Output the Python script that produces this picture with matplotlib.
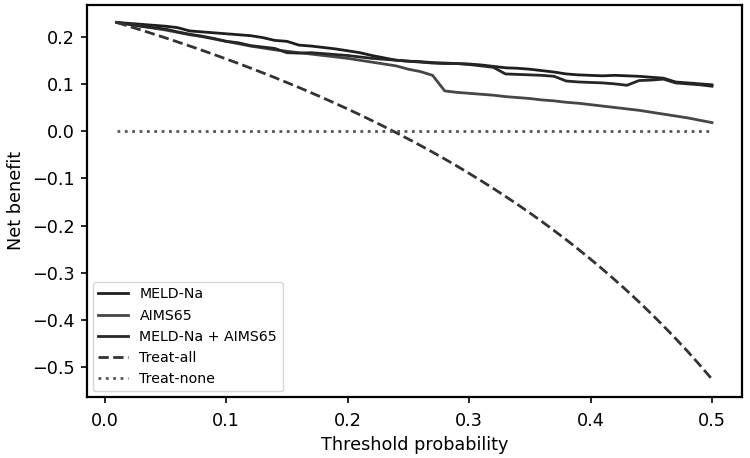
import numpy as np
import matplotlib.pyplot as plt

# threshold probabilities 0.01 .. 0.50
thresholds = [round(0.01 * i, 2) for i in range(1, 51)]

meld_na = [0.230, 0.228, 0.226, 0.224, 0.222, 0.219, 0.212, 0.210, 0.208, 0.206,
           0.204, 0.202, 0.198, 0.192, 0.190, 0.182, 0.180, 0.177, 0.174, 0.170,
           0.166, 0.160, 0.155, 0.150, 0.148, 0.147, 0.145, 0.144, 0.143, 0.142,
           0.140, 0.137, 0.134, 0.133, 0.131, 0.128, 0.125, 0.121, 0.119, 0.118,
           0.117, 0.118, 0.117, 0.116, 0.114, 0.112, 0.104, 0.102, 0.100, 0.098]

aims65 = [0.230, 0.226, 0.222, 0.218, 0.214, 0.209, 0.204, 0.200, 0.195, 0.190,
          0.185, 0.180, 0.176, 0.172, 0.169, 0.166, 0.163, 0.160, 0.157, 0.154,
          0.150, 0.146, 0.142, 0.138, 0.131, 0.126, 0.118, 0.085, 0.082, 0.080,
          0.078, 0.076, 0.073, 0.071, 0.069, 0.066, 0.064, 0.061, 0.059, 0.056,
          0.053, 0.050, 0.047, 0.044, 0.040, 0.036, 0.032, 0.028, 0.023, 0.018]

combined = [0.230, 0.226, 0.222, 0.219, 0.216, 0.210, 0.205, 0.201, 0.196, 0.190,
            0.187, 0.181, 0.178, 0.175, 0.166, 0.165, 0.166, 0.164, 0.162, 0.160,
            0.157, 0.154, 0.152, 0.150, 0.148, 0.146, 0.144, 0.143, 0.143, 0.141,
            0.138, 0.135, 0.121, 0.120, 0.119, 0.118, 0.116, 0.106, 0.104, 0.103,
            0.102, 0.100, 0.097, 0.107, 0.108, 0.110, 0.102, 0.100, 0.098, 0.095]

treat_all = [0.2298, 0.2219, 0.2139, 0.2057, 0.1974, 0.1888, 0.1801, 0.1712, 0.1621, 0.1528,
             0.1433, 0.1335, 0.1236, 0.1134, 0.1029, 0.0923, 0.0813, 0.0701, 0.0586, 0.0469,
             0.0348, 0.0224, 0.0097, -0.0033, -0.0167, -0.0304, -0.0445, -0.0590, -0.0739, -0.0893,
             -0.1051, -0.1213, -0.1381, -0.1553, -0.1731, -0.1914, -0.2103, -0.2298, -0.2500, -0.2708,
             -0.2924, -0.3147, -0.3377, -0.3616, -0.3864, -0.4120, -0.4387, -0.4663, -0.4951, -0.5250]

treat_none = [0.0] * len(thresholds)

fig, ax = plt.subplots(figsize=(7.5, 4.58), dpi=100)
fig.subplots_adjust(left=0.116, right=0.989, top=0.990, bottom=0.133)

ax.plot(thresholds, meld_na, color="#1e1e1e", lw=2, label="MELD-Na")
ax.plot(thresholds, aims65, color="#464646", lw=2, label="AIMS65")
ax.plot(thresholds, combined, color="#262626", lw=2, label="MELD-Na + AIMS65")
ax.plot(thresholds, treat_all, color="#333333", lw=2, ls="--", label="Treat-all")
ax.plot(thresholds, treat_none, color="#555555", lw=2, ls=":", label="Treat-none")

ax.set_xlabel("Threshold probability", fontsize=12.7, labelpad=4)
ax.set_ylabel("Net benefit", fontsize=12.7, labelpad=5)
ax.tick_params(labelsize=12.7, width=1.2, length=4.5, pad=4.5)
ax.tick_params(axis="x", pad=6.5)
for s in ax.spines.values():
    s.set_linewidth(1.6)
ax.legend(loc="lower left", fontsize=10.2, handlelength=2.1, borderaxespad=0.4)

plt.savefig("out.png")
